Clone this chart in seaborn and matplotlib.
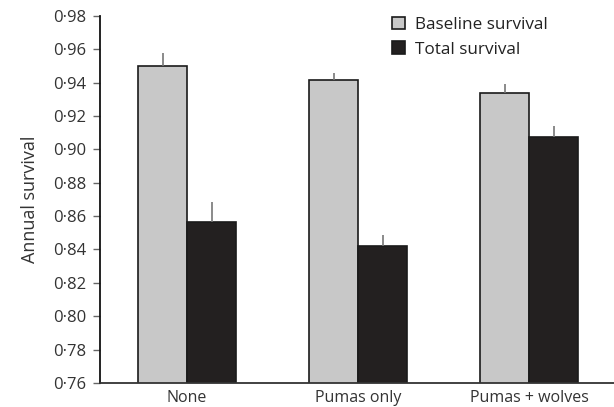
import matplotlib
matplotlib.use("Agg")
import matplotlib.pyplot as plt
from matplotlib.ticker import FuncFormatter, MultipleLocator
import pandas as pd
import seaborn as sns

# values
treatments = ["None", "Pumas only", "Pumas + wolves"]
baseline = [0.950, 0.9413, 0.9335]
baseline_err = [0.0077, 0.0044, 0.0058]
total = [0.8562, 0.8421, 0.9075]
total_err = [0.012, 0.0066, 0.0066]
series = ["Baseline survival", "Total survival"]

df = pd.DataFrame({
    "Treatment": treatments * 2,
    "Survival": [series[0]] * 3 + [series[1]] * 3,
    "Value": baseline + total,
})

sns.set_style("ticks")
plt.rcParams["font.family"] = ["Open Sans", "DejaVu Sans"]

fig = plt.figure(figsize=(6.14, 4.07), dpi=100)
ax = fig.add_axes([0.163, 0.059, 1 - 0.163, 0.902])

sns.barplot(data=df, x="Treatment", y="Value", hue="Survival",
            palette=["#c8c8c8", "#231f20"], width=0.573, errorbar=None,
            edgecolor="#1a1a1a", linewidth=1.2, ax=ax)

# one-sided error bars, no caps
for cont, errs in zip(ax.containers, [baseline_err, total_err]):
    xs = [b.get_x() + b.get_width() / 2 for b in cont]
    ys = [b.get_height() for b in cont]
    ax.errorbar(xs, ys, yerr=[[0] * len(errs), errs], fmt="none",
                ecolor="#777777", elinewidth=1.2, capsize=0, zorder=1)

ax.set_ylim(0.76, 0.98)
ax.set_xlim(-0.509, 2.497)
ax.yaxis.set_major_locator(MultipleLocator(0.02))
ax.yaxis.set_major_formatter(FuncFormatter(lambda v, p: "{:.2f}".format(v).replace(".", "\u00b7")))

ax.set_xlabel("")
ax.set_ylabel("Annual survival", fontsize=13, color="#333333", labelpad=10)
ax.tick_params(axis="y", length=5, width=1, color="#666666", labelsize=12,
               labelcolor="#333333", pad=5)
ax.tick_params(axis="x", length=0, labelsize=11.5, labelcolor="#333333", pad=5)

sns.despine(ax=ax, top=True, right=True)
ax.spines["left"].set_color("#111111")
ax.spines["left"].set_linewidth(1.3)
ax.spines["bottom"].set_color("#333333")
ax.spines["bottom"].set_linewidth(1.3)

leg = ax.legend(loc="upper left", bbox_to_anchor=(0.538, 1.04), frameon=False,
                fontsize=12.3, handlelength=0.75, handleheight=0.75,
                handletextpad=0.6, labelspacing=0.5)
for t in leg.get_texts():
    t.set_color("#222222")

fig.savefig("out.png", dpi=100)
